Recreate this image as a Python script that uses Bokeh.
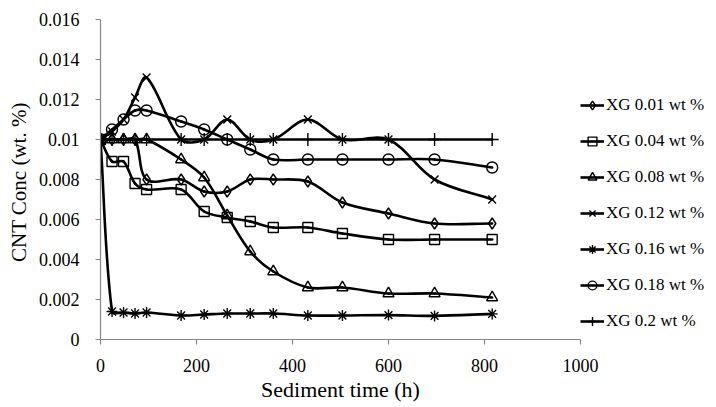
import numpy as np
from bokeh.plotting import figure
from bokeh.models import Range1d, FixedTicker, Legend, LegendItem, ColumnDataSource
from bokeh.embed import file_html
from bokeh.resources import INLINE

# ---------------- data ----------------
times = [0, 24, 48, 72, 96, 168, 216, 264, 312, 360, 432, 504, 600, 696, 816]
xg_001 = [0.01, 0.01, 0.01, 0.01, 0.0080, 0.0080, 0.0074, 0.0074, 0.0080, 0.0080, 0.0079, 0.00685, 0.0063, 0.0058, 0.0058]
xg_004 = [0.01, 0.0089, 0.0089, 0.0078, 0.0075, 0.0075, 0.0064, 0.0061, 0.0059, 0.0056, 0.0056, 0.0053, 0.0050, 0.0050, 0.0050]
xg_008 = [0.01, 0.01, 0.01, 0.01, 0.01, 0.0090, 0.0081, 0.0062, 0.0044, 0.0034, 0.0026, 0.0026, 0.0023, 0.0023, 0.0021]
xg_012 = [0.01, 0.0104, 0.0110, 0.0121, 0.0131, 0.0100, 0.0100, 0.0110, 0.0100, 0.0100, 0.0110, 0.0100, 0.0100, 0.0080, 0.0070]
xg_016 = [0.01, 0.0014, 0.00135, 0.0013, 0.00135, 0.0012, 0.00125, 0.0013, 0.0013, 0.0013, 0.0012, 0.0012, 0.00122, 0.00118, 0.00128]
xg_018 = [0.01, 0.0105, 0.0110, 0.01145, 0.01145, 0.0109, 0.0105, 0.0100, 0.0095, 0.0090, 0.0090, 0.0090, 0.0090, 0.0090, 0.0086]
xg_020 = [0.01, 0.01, 0.01, 0.01, 0.01, 0.01, 0.01, 0.01, 0.01, 0.01, 0.01, 0.01, 0.01, 0.01, 0.01]

series_labels = ["XG 0.01 wt %", "XG 0.04 wt %", "XG 0.08 wt %", "XG 0.12 wt %",
                 "XG 0.16 wt %", "XG 0.18 wt %", "XG 0.2 wt %"]
series_values = [xg_001, xg_004, xg_008, xg_012, xg_016, xg_018, xg_020]
series_markers = ["diamond", "square", "triangle", "x", "asterisk", "circle", "cross"]
marker_sizes = [11, 10, 11, 11, 11, 11, 13]

x_ticks = [0, 200, 400, 600, 800, 1000]
y_ticks = [0, 0.002, 0.004, 0.006, 0.008, 0.01, 0.012, 0.014, 0.016]
y_tick_labels = ["0", "0.002", "0.004", "0.006", "0.008", "0.01", "0.012", "0.014", "0.016"]

# ---------------- layout ----------------
FRAME_W, FRAME_H = 480, 320
X_MAX, Y_MAX = 1000, 0.016
FONT = "Liberation Serif"

p = figure(frame_width=FRAME_W, frame_height=FRAME_H,
           x_range=Range1d(0, X_MAX), y_range=Range1d(0, Y_MAX),
           output_backend="svg", toolbar_location=None,
           min_border_left=100, min_border_right=10, min_border_top=19, min_border_bottom=64)
p.outline_line_color = None
p.xgrid.visible = False
p.ygrid.visible = False
p.background_fill_color = "white"
p.border_fill_color = "white"


def smooth(xs, ys, kx, ky, t=1.0 / 3.0):
    P = np.column_stack([np.asarray(xs, float) * kx, np.asarray(ys, float) * ky])
    n = len(P)
    out = {k: [] for k in ["x0", "y0", "x1", "y1", "cx0", "cy0", "cx1", "cy1"]}
    for i in range(n - 1):
        p0 = P[max(i - 1, 0)]
        p1 = P[i]
        p2 = P[i + 1]
        p3 = P[min(i + 2, n - 1)]
        d01 = np.hypot(*(p1 - p0))
        d12 = np.hypot(*(p2 - p1))
        d23 = np.hypot(*(p3 - p2))
        f1 = d12 / (d01 + d12) if (d01 + d12) > 0 else 0
        f2 = d12 / (d12 + d23) if (d12 + d23) > 0 else 0
        c1 = p1 + (p2 - p0) * t * f1
        c2 = p2 - (p3 - p1) * t * f2
        out["x0"].append(p1[0] / kx); out["y0"].append(p1[1] / ky)
        out["x1"].append(p2[0] / kx); out["y1"].append(p2[1] / ky)
        out["cx0"].append(c1[0] / kx); out["cy0"].append(c1[1] / ky)
        out["cx1"].append(c2[0] / kx); out["cy1"].append(c2[1] / ky)
    return out


kx = FRAME_W / X_MAX
ky = FRAME_H / Y_MAX

items = []
for label, vals, mk, ms in zip(series_labels, series_values, series_markers, marker_sizes):
    seg = smooth(times, vals, kx, ky)
    p.bezier(source=ColumnDataSource(seg), x0="x0", y0="y0", x1="x1", y1="y1",
             cx0="cx0", cy0="cy0", cx1="cx1", cy1="cy1",
             line_color="black", line_width=2.6, line_cap="round")
    leg_line = p.line(times, vals, line_color="black", line_width=2.6, visible=False)
    sc = p.scatter(times, vals, marker=mk, size=ms, fill_color=None,
                   line_color="black", line_width=1.4)
    items.append(LegendItem(label=label, renderers=[leg_line, sc]))

legend = Legend(items=items, location=(0, 7), orientation="vertical",
                glyph_width=24, glyph_height=22, label_height=22, spacing=14,
                padding=0, margin=0, label_standoff=2,
                border_line_color=None, background_fill_alpha=0,
                label_text_font=FONT, label_text_font_size="17px",
                label_text_color="black")
p.add_layout(legend, "right")

for ax in (p.xaxis[0], p.yaxis[0]):
    ax.axis_line_color = "#868686"
    ax.axis_line_width = 1.2
    ax.major_tick_line_color = "#868686"
    ax.major_tick_line_width = 1.2
    ax.major_tick_out = 5
    ax.major_tick_in = 0
    ax.minor_tick_line_color = None
    ax.major_label_text_font = FONT
    ax.major_label_text_font_size = "18px"
    ax.major_label_text_color = "black"
    ax.axis_label_text_font = FONT
    ax.axis_label_text_font_style = "normal"
    ax.axis_label_text_color = "black"

p.xaxis.axis_label_text_font_size = "22px"
p.yaxis.axis_label_text_font_size = "21px"
p.xaxis.ticker = FixedTicker(ticks=x_ticks)
p.yaxis.ticker = FixedTicker(ticks=y_ticks)
p.yaxis.major_label_overrides = {t: l for t, l in zip(y_ticks, y_tick_labels)}
p.xaxis.axis_label = "Sediment time (h)"
p.yaxis.axis_label = "CNT Conc  (wt. %)"
p.xaxis.major_label_standoff = 14
p.xaxis.axis_label_standoff = 2
p.yaxis.major_label_standoff = 16
p.yaxis.axis_label_standoff = 5

open("out.html", "w").write(file_html(p, INLINE))
